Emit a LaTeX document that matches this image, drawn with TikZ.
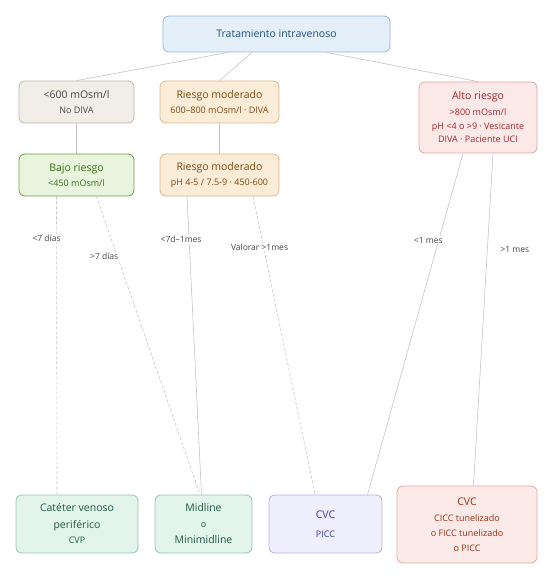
\documentclass[tikz,border=0pt]{standalone}
\usepackage{fontspec}
\setmainfont{Open Sans}
\usetikzlibrary{calc}

\definecolor{topfill}{HTML}{E4EFFA}
\definecolor{topline}{HTML}{93B7DE}
\definecolor{toptext}{HTML}{1F4E7A}
\definecolor{grayfill}{HTML}{F1EEE8}
\definecolor{grayline}{HTML}{BDB8AE}
\definecolor{graytext}{HTML}{454545}
\definecolor{modfill}{HTML}{FBECD8}
\definecolor{modline}{HTML}{DDB88E}
\definecolor{modtext}{HTML}{7A4710}
\definecolor{altfill}{HTML}{FBE9E7}
\definecolor{altline}{HTML}{E2A4A4}
\definecolor{alttext}{HTML}{A3262A}
\definecolor{lowfill}{HTML}{E9F4DE}
\definecolor{lowline}{HTML}{6B9E3C}
\definecolor{lowtext}{HTML}{3B6B17}
\definecolor{perfill}{HTML}{E2F4EC}
\definecolor{perline}{HTML}{93C6AF}
\definecolor{pertext}{HTML}{1D5944}
\definecolor{cvcfill}{HTML}{EEEEFD}
\definecolor{cvcline}{HTML}{B3B0EA}
\definecolor{cvctext}{HTML}{3D3C9C}
\definecolor{tunfill}{HTML}{FBEAE7}
\definecolor{tunline}{HTML}{E2AAA0}
\definecolor{tuntext}{HTML}{9B3119}
\definecolor{linkgray}{HTML}{C4C4C4}
\definecolor{labelgray}{HTML}{444444}

\newcommand*{\boxtitle}[1]{{\fontsize{10.5}{12}\selectfont #1}}
\newcommand*{\boxsub}[1]{{\fontsize{9}{10.5}\selectfont #1}}

\begin{document}
\begin{tikzpicture}
[
	x=1pt, y=-1pt,
	box/.style={rectangle,rounded corners=6pt,draw,line width=0.8pt,align=center,inner sep=2pt},
	topbox/.style={box,fill=topfill,draw=topline,text=toptext,minimum width=227pt,minimum height=36pt},
	graybox/.style={box,fill=grayfill,draw=grayline,text=graytext,minimum width=115pt,minimum height=42pt},
	modbox/.style={box,fill=modfill,draw=modline,text=modtext,minimum width=119pt,minimum height=42pt},
	altbox/.style={box,fill=altfill,draw=altline,text=alttext,minimum width=118pt,minimum height=71pt},
	lowbox/.style={box,fill=lowfill,draw=lowline,text=lowtext,minimum width=115pt,minimum height=42pt},
	perbox/.style={box,fill=perfill,draw=perline,text=pertext,minimum height=58pt},
	cvcbox/.style={box,fill=cvcfill,draw=cvcline,text=cvctext,minimum width=113pt,minimum height=58pt},
	tunbox/.style={box,fill=tunfill,draw=tunline,text=tuntext,minimum width=140pt,minimum height=77pt},
	link/.style={draw=linkgray,line width=0.6pt},
	maybe/.style={link,dash pattern=on 3pt off 2pt},
	lbl/.style={fill=white,text=labelgray,inner sep=1pt,font=\fontsize{8.5}{10}\selectfont}
]

	\useasboundingbox (0,0) rectangle (553,585);

	% top
	\node[topbox] (top) at (276.5,34) {\boxtitle{Tratamiento intravenoso}};

	% first level
	\node[graybox] (n600) at (76.5,102) {\boxtitle{<600 mOsm/l}\\[3pt]\boxsub{No DIVA}};
	\node[modbox] (rm1) at (219.5,102) {\boxtitle{Riesgo moderado}\\[3pt]\boxsub{600–800 mOsm/l · DIVA}};
	\node[altbox] (alto) at (478,117.5) {\boxtitle{Alto riesgo}\\[4pt]\boxsub{>800 mOsm/l}\\[1.5pt]\boxsub{pH <4 o >9 · Vesicante}\\[1.5pt]\boxsub{DIVA · Paciente UCI}};

	% second level
	\node[lowbox] (bajo) at (76.5,175) {\boxtitle{Bajo riesgo}\\[3pt]\boxsub{<450 mOsm/l}};
	\node[modbox] (rm2) at (219.5,175) {\boxtitle{Riesgo moderado}\\[3pt]\boxsub{pH 4-5 / 7.5-9 · 450-600}};

	% devices
	\node[perbox,minimum width=122pt] (cvp) at (77,524) {\boxtitle{Catéter venoso}\\[5pt]\boxtitle{periférico}\\[3pt]\boxsub{CVP}};
	\node[perbox,minimum width=97pt] (mid) at (203.5,524) {\boxtitle{Midline}\\[4pt]\boxsub{o}\\[4pt]\boxtitle{Minimidline}};
	\node[cvcbox] (cvcb) at (325.5,524) {\boxtitle{CVC}\\[7pt]\boxsub{PICC}};
	\node[tunbox] (cvch) at (467,524.5) {\boxtitle{CVC}\\[4pt]\boxsub{CICC tunelizado}\\[3pt]\boxsub{o FICC tunelizado}\\[2.5pt]\boxsub{o PICC}};

	% tree links
	\draw[link] ([xshift=-48.5pt]top.south) -- (n600.north);
	\draw[link] ([xshift=-24.5pt]top.south) -- (rm1.north);
	\draw[link] ([xshift=49.5pt]top.south) -- (alto.north);
	\draw[link] (n600) -- (bajo);
	\draw[link] (rm1) -- (rm2);

	% duration links
	\draw[maybe] ([xshift=-20pt]bajo.south) -- node[lbl,pos=0.14,xshift=-10pt] (l7) {<7 días} ([xshift=-20pt]cvp.north);
	\draw[maybe] ([xshift=20pt]bajo.south) -- node[lbl,pos=0.2,xshift=-13pt] (g7) {>7 días} ([xshift=-3.5pt]mid.north);
	\draw[link] ([xshift=-32.5pt]rm2.south) -- node[lbl,pos=0.144,xshift=-8pt] (l7m) {<7d–1mes} ([xshift=-2pt]mid.north);
	\draw[maybe] ([xshift=33.5pt]rm2.south) -- node[lbl,pos=0.17,xshift=-4pt] (val) {Valorar >1mes} ([xshift=-10.5pt]cvcb.north);
	\draw[link] ([xshift=-15pt]alto.south) -- node[lbl,pos=0.254,xshift=-10.5pt] (l1m) {<1 mes} ([xshift=42pt]cvcb.north);
	\draw[link] ([xshift=15pt]alto.south) -- node[lbl,pos=0.29,xshift=27.5pt] (g1m) {>1 mes} ([xshift=6.5pt]cvch.north);

\end{tikzpicture}
\end{document}
